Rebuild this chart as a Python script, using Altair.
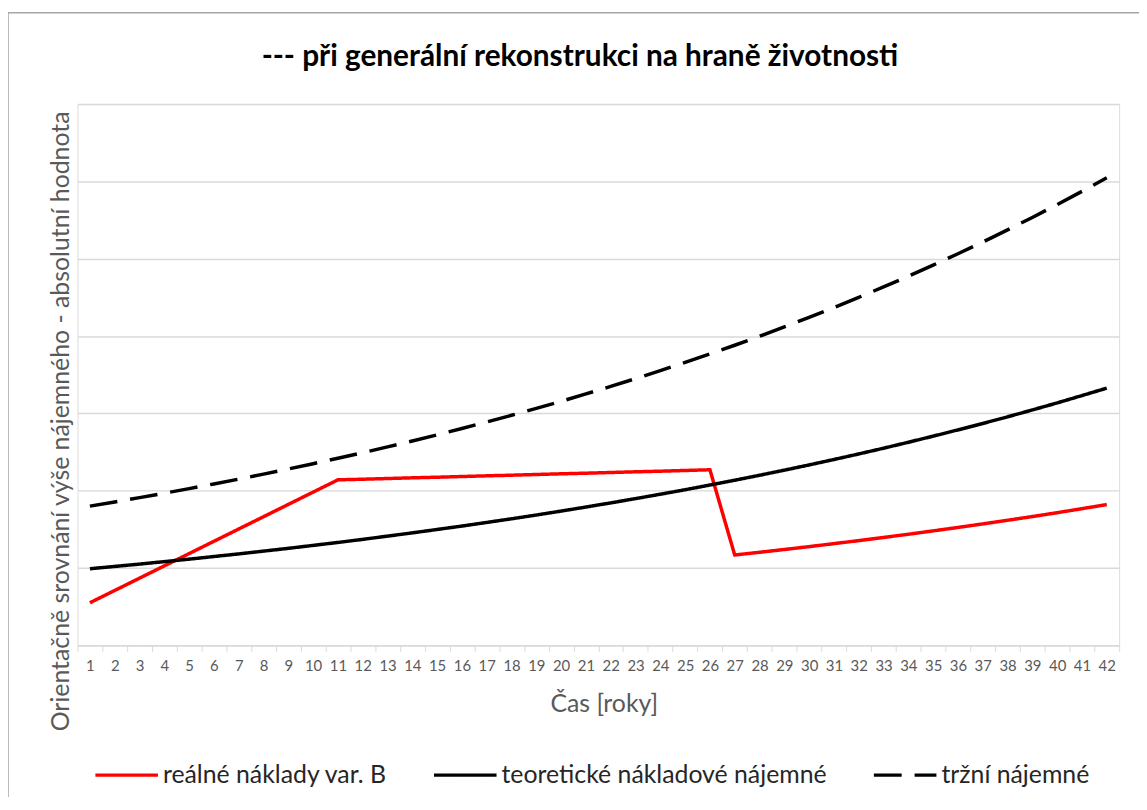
import altair as alt
import pandas as pd

years = list(range(1, 43))

real_b = [5.50, 7.09, 8.68, 10.27, 11.86, 13.45, 15.04, 16.63, 18.22, 19.81,
          21.40, 21.48, 21.57, 21.66, 21.74, 21.83, 21.92, 22.00, 22.09, 22.18,
          22.26, 22.35, 22.44, 22.52, 22.61, 22.70,
          11.68, 12.03, 12.39, 12.76, 13.15, 13.54, 13.95, 14.36, 14.80, 15.24,
          15.70, 16.17, 16.65, 17.15, 17.67, 18.20]

theor = [9.90, 10.20, 10.50, 10.82, 11.14, 11.48, 11.82, 12.18, 12.54, 12.92,
         13.30, 13.70, 14.12, 14.54, 14.98, 15.42, 15.89, 16.36, 16.85, 17.36,
         17.88, 18.42, 18.97, 19.54, 20.12, 20.73, 21.35, 21.99, 22.65, 23.33,
         24.03, 24.75, 25.49, 26.26, 27.05, 27.86, 28.69, 29.55, 30.44, 31.35,
         32.30, 33.26]

market = [18.00, 18.54, 19.10, 19.67, 20.26, 20.87, 21.49, 22.14, 22.80, 23.49,
          24.19, 24.91, 25.66, 26.43, 27.22, 28.04, 28.88, 29.75, 30.64, 31.56,
          32.51, 33.48, 34.49, 35.52, 36.59, 37.68, 38.81, 39.98, 41.18, 42.41,
          43.69, 45.00, 46.35, 47.74, 49.17, 50.64, 52.16, 53.73, 55.34, 57.00,
          58.71, 60.47]

series_names = ["reálné náklady var. B", "teoretické nákladové nájemné", "tržní nájemné"]
series_colors = ["#FF0000", "#000000", "#000000"]
series_dash = [[1, 0], [1, 0], [28, 13]]
y_ticks = [0, 10, 20, 30, 40, 50, 60, 70]
title_text = "--- při generální rekonstrukci na hraně životnosti"

rows = []
for name, vals in zip(series_names, [real_b, theor, market]):
    for yr, v in zip(years, vals):
        rows.append({"rok": str(yr), "hodnota": v, "serie": name})
df = pd.DataFrame(rows)

W, H = 1049, 545
FONT = "Lato"

legend_cfg = dict(title=None, orient="none", direction="horizontal",
                  legendX=16, legendY=642, symbolType="stroke",
                  symbolSize=3969, symbolStrokeWidth=3.5,
                  labelFont=FONT, labelFontSize=25, labelColor="#262626",
                  columnPadding=40, labelOffset=3, labelLimit=600)

lines = alt.Chart(df).mark_line(strokeWidth=3.5, strokeCap="butt", strokeJoin="miter").encode(
    x=alt.X("rok:N", sort=[str(y) for y in years],
            scale=alt.Scale(paddingInner=0, paddingOuter=0),
            axis=alt.Axis(title="Čas [roky]", labelAngle=0, labelFontSize=15, labelColor="#595959",
                          labelFont=FONT, tickBand="extent", tickSize=6, tickColor="#d9d9d9",
                          domainColor="#d9d9d9", domainWidth=1.5, labelPadding=7, grid=False,
                          titleFont=FONT, titleFontSize=25, titleFontWeight="normal",
                          titleColor="#595959", titleX=530, titleY=59, titleBaseline="middle",
                          titleAlign="center")),
    y=alt.Y("hodnota:Q", scale=alt.Scale(domain=[0, 70], nice=False),
            axis=alt.Axis(values=y_ticks, labels=False, ticks=False, domain=False,
                          gridColor="#d9d9d9", gridWidth=1.5,
                          title="Orientačně srovnání výše nájemného - absolutní hodnota",
                          titleFont=FONT, titleFontSize=25, titleFontWeight="normal",
                          titleColor="#595959", titleAngle=270, titleX=-17, titleY=319,
                          titleBaseline="middle", titleAlign="center")),
    color=alt.Color("serie:N", sort=series_names,
                    scale=alt.Scale(domain=series_names, range=series_colors),
                    legend=alt.Legend(**legend_cfg)),
    strokeDash=alt.StrokeDash("serie:N", sort=series_names,
                              scale=alt.Scale(domain=series_names, range=series_dash),
                              legend=alt.Legend(**legend_cfg)),
)

border = alt.Chart(pd.DataFrame({"k": [0]})).mark_rect(
    fill=None, stroke="#a6a6a6", strokeWidth=1.5
).encode(
    x=alt.value(-70), x2=alt.value(1150), y=alt.value(-92), y2=alt.value(800)
)

title = alt.Chart(pd.DataFrame({"t": [title_text]})).mark_text(
    font=FONT, fontSize=30, fontWeight="bold", color="#000000",
    align="center", baseline="alphabetic"
).encode(text="t:N", x=alt.value(506), y=alt.value(-38))

chart = alt.layer(border, lines, title).properties(
    width=W, height=H,
    autosize=alt.AutoSizeParams(type="none"),
    padding={"left": 70, "top": 94, "right": 20, "bottom": 150},
).configure_view(stroke=None).configure(background="white")

chart.save("out.html", embed_options={"renderer": "svg", "actions": False})
